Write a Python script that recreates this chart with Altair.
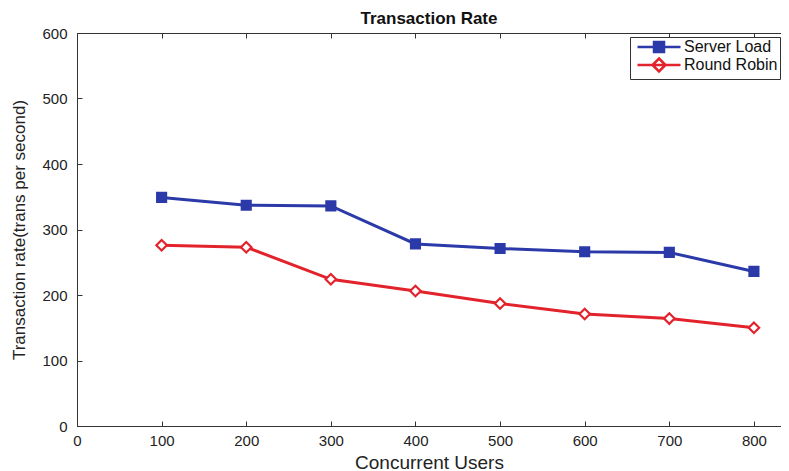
import altair as alt
import pandas as pd

users = [100, 200, 300, 400, 500, 600, 700, 800]
server_load = [349, 337, 336, 278, 271, 266, 265, 236]
round_robin = [276, 273, 224, 206, 187, 171, 164, 150]
series_names = ["Server Load", "Round Robin"]
line_colors = ["#2b3aa8", "#e3232b"]
marker_fills = ["#2b3aa8", "#ffffff"]
plot_shapes = ["square", "diamond"]
marker_sizes = [80, 110]
legend_shapes = [
    "M-4.3,0H4.3M-1,-1H1V1H-1Z",
    "M-4.3,0H4.3M0,-1.3L1.3,0L0,1.3L-1.3,0Z",
]
x_ticks = [0, 100, 200, 300, 400, 500, 600, 700, 800]
y_ticks = [0, 100, 200, 300, 400, 500, 600]

rows = []
for u, v in zip(users, server_load):
    rows.append({"users": u, "rate": v, "series": series_names[0]})
for u, v in zip(users, round_robin):
    rows.append({"users": u, "rate": v, "series": series_names[1]})
df = pd.DataFrame(rows)

W, H = 704, 393
FONT = "Liberation Sans"
AX = "#333333"

x_scale = alt.Scale(domain=[0, 832], nice=False, zero=False)
y_scale = alt.Scale(domain=[0, 600], nice=False)


def cscale():
    return alt.Scale(domain=series_names, range=line_colors)


def fscale():
    return alt.Scale(domain=series_names, range=marker_fills)


base = alt.Chart(df)

lines = base.mark_line(strokeWidth=3).encode(
    x=alt.X("users:Q", scale=x_scale, axis=alt.Axis(
        values=x_ticks, title="Concurrent Users", ticks=False, grid=False,
        domainColor=AX, labelColor="#222", labelFont=FONT, labelFontSize=15,
        labelPadding=7, titleFont=FONT, titleFontSize=19, titleFontWeight="normal",
        titleColor="#222", titlePadding=5, labelFlush=False)),
    y=alt.Y("rate:Q", scale=y_scale, axis=alt.Axis(
        values=y_ticks, title="Transaction rate(trans per second)", ticks=False, grid=False,
        domainColor=AX, labelColor="#222", labelFont=FONT, labelFontSize=15,
        labelPadding=10, titleFont=FONT, titleFontSize=17, titleFontWeight="normal",
        titleColor="#222", titlePadding=13)),
    color=alt.Color("series:N", scale=cscale(), legend=None),
)

points = base.mark_point(strokeWidth=2.2, opacity=1).encode(
    x=alt.X("users:Q", scale=x_scale, axis=alt.Axis(
        orient="top", offset=-H, values=x_ticks, labels=False, domain=False,
        ticks=True, tickSize=5, tickColor=AX, grid=False, title=None)),
    y=alt.Y("rate:Q", scale=y_scale, axis=alt.Axis(
        orient="right", offset=-W, values=y_ticks, labels=False, domain=False,
        ticks=True, tickSize=5, tickColor=AX, grid=False, title=None)),
    color=alt.Color("series:N", scale=cscale(), legend=None),
    fill=alt.Fill("series:N", scale=fscale(), legend=None),
    shape=alt.Shape("series:N", scale=alt.Scale(domain=series_names, range=plot_shapes), legend=None),
    size=alt.Size("series:N", scale=alt.Scale(domain=series_names, range=marker_sizes), legend=None),
)

leg = alt.Legend(
    title=None, orient="none", legendX=553, legendY=4, direction="vertical",
    strokeColor=AX, fillColor="#ffffff", padding=2, symbolSize=100,
    symbolStrokeWidth=2.5, labelFont=FONT, labelFontSize=16, labelColor="#111",
    labelOffset=17, rowPadding=-8, symbolOffset=19,
)

legend_layer = base.transform_filter("false").mark_point(strokeWidth=2.5, opacity=1).encode(
    x=alt.X("users:Q", scale=x_scale, axis=alt.Axis(
        orient="bottom", offset=-H, values=x_ticks, labels=False, domain=True,
        domainColor=AX, ticks=True, tickSize=5, tickColor=AX, grid=False, title=None)),
    y=alt.Y("rate:Q", scale=y_scale, axis=None),
    color=alt.Color("series:N", scale=cscale(), legend=leg),
    fill=alt.Fill("series:N", scale=fscale(), legend=leg),
    shape=alt.Shape("series:N", scale=alt.Scale(domain=series_names, range=legend_shapes), legend=leg),
)

chart = alt.layer(lines, points, legend_layer).resolve_scale(
    color="independent", fill="independent", shape="independent", size="independent"
).resolve_axis(x="independent", y="independent").properties(
    width=W, height=H,
    autosize="none",
    padding={"left": 69, "top": 25, "right": 0, "bottom": 45},
    title=alt.Title("Transaction Rate", font=FONT, fontSize=17, fontWeight="bold",
                    color="#111", anchor="middle", offset=6, dy=8),
).configure_view(stroke=None)

chart.save("out.html", embed_options={"renderer": "svg", "actions": False})
